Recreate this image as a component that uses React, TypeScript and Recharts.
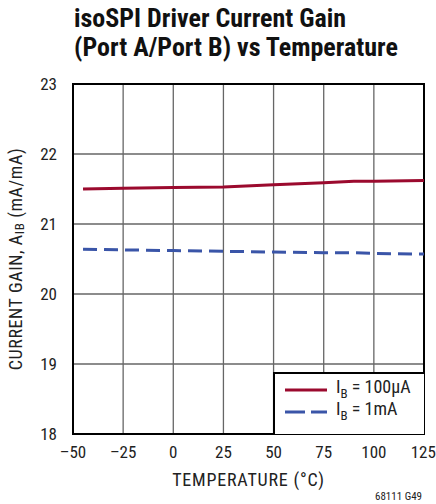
import {
  CartesianGrid,
  Label,
  Line,
  LineChart,
  ReferenceArea,
  XAxis,
  YAxis,
} from "recharts";

const temps = [-45, -25, 0, 25, 50, 75, 90, 100, 125];
const gain100uA = [21.5, 21.51, 21.52, 21.53, 21.56, 21.59, 21.61, 21.61, 21.62];
const gain1mA = [20.64, 20.63, 20.62, 20.61, 20.6, 20.59, 20.59, 20.58, 20.57];
const xTicks = [-50, -25, 0, 25, 50, 75, 100, 125];
const yTicks = [18, 19, 20, 21, 22, 23];

const FONT = '"Liberation Sans Narrow", "Roboto Condensed", "Liberation Sans", Arial, sans-serif';
const RED = "#9b0a2e";
const BLUE = "#3a55a8";

const data = temps.map((t, i) => ({
  t,
  low: gain100uA[i],
  high: gain1mA[i],
}));

function YLabel({ viewBox }: any) {
  const cx = 17;
  const cy = viewBox.y + viewBox.height / 2;
  return (
    <text
      x={cx}
      y={cy}
      transform={`rotate(-90 ${cx} ${cy})`}
      textAnchor="middle"
      dominantBaseline="middle"
      fontFamily={FONT}
      fontSize={18}
      letterSpacing={0.6}
      fill="#222"
    >
      CURRENT GAIN, A
      <tspan fontSize={13} dy={4}>IB</tspan>
      <tspan dy={-4}> (mA/mA)</tspan>
    </text>
  );
}

function LegendBox() {
  const row = (color: string, dashed: boolean, label: string) => (
    <div style={{ display: "flex", alignItems: "center", height: 22 }}>
      <svg width={42} height={6} style={{ marginRight: 9 }}>
        <line
          x1={0}
          y1={3}
          x2={42}
          y2={3}
          stroke={color}
          strokeWidth={3}
          strokeDasharray={dashed ? "20 6" : undefined}
        />
      </svg>
      <span>
        I<sub style={{ fontSize: 13 }}>B</sub> = {label}
      </span>
    </div>
  );
  return (
    <div
      style={{
        position: "absolute",
        left: 273,
        top: 372,
        background: "#fff",
        borderLeft: "2px solid #000",
        borderTop: "2px solid #000",
        width: 151,
        height: 62,
        boxSizing: "border-box",
        padding: "5px 0 0 10px",
        fontFamily: FONT,
        fontSize: 18,
        color: "#222",
        lineHeight: "16px",
      }}
    >
      {row(RED, false, "100µA")}
      {row(BLUE, true, "1mA")}
    </div>
  );
}

export default function App() {
  return (
    <div
      style={{
        position: "absolute",
        left: 0,
        top: 0,
        width: 436,
        height: 504,
        background: "#fff",
        fontFamily: FONT,
      }}
    >
      <div
        style={{
          position: "absolute",
          left: 74,
          top: 4,
          fontSize: 26,
          fontWeight: "bold",
          lineHeight: "29px",
          color: "#111",
        }}
      >
        isoSPI Driver Current Gain
        <br />
        (Port A/Port B) vs Temperature
      </div>
      <LineChart
        width={436}
        height={504}
        data={data}
        margin={{ top: 84, right: 12, bottom: 0, left: 0 }}
      >
        <CartesianGrid stroke="#666" strokeWidth={1.3} horizontal vertical />
        <XAxis
          dataKey="t"
          type="number"
          domain={[-50, 125]}
          ticks={xTicks}
          tickFormatter={(v: number) => String(v).replace("-", "\u2013")}
          tick={{ fontSize: 17, fill: "#222", fontFamily: FONT }}
          tickLine={false}
          axisLine={false}
          height={70}
          tickMargin={6}
        >
          <Label
            value="TEMPERATURE (°C)"
            position="insideTop"
            offset={39}
            style={{ fontSize: 18, fill: "#222", fontFamily: FONT, letterSpacing: 0.8 }}
          />
        </XAxis>
        <YAxis
          type="number"
          domain={[18, 23]}
          ticks={yTicks}
          tick={{ fontSize: 17, fill: "#222", fontFamily: FONT }}
          tickLine={false}
          axisLine={false}
          width={73}
          tickMargin={10}
        >
          <Label content={<YLabel />} />
        </YAxis>
        <ReferenceArea
          x1={-50}
          x2={125}
          y1={18}
          y2={23}
          fill="none"
          stroke="#000"
          strokeWidth={2}
          ifOverflow="visible"
        />
        <Line
          dataKey="low"
          stroke={RED}
          strokeWidth={3}
          dot={false}
          type="linear"
          isAnimationActive={false}
        />
        <Line
          dataKey="high"
          stroke={BLUE}
          strokeWidth={3}
          strokeDasharray="14 7"
          dot={false}
          type="linear"
          isAnimationActive={false}
        />
      </LineChart>
      <LegendBox />
      <div
        style={{
          position: "absolute",
          right: 14,
          top: 490,
          fontSize: 11,
          color: "#222",
        }}
      >
        68111 G49
      </div>
    </div>
  );
}
